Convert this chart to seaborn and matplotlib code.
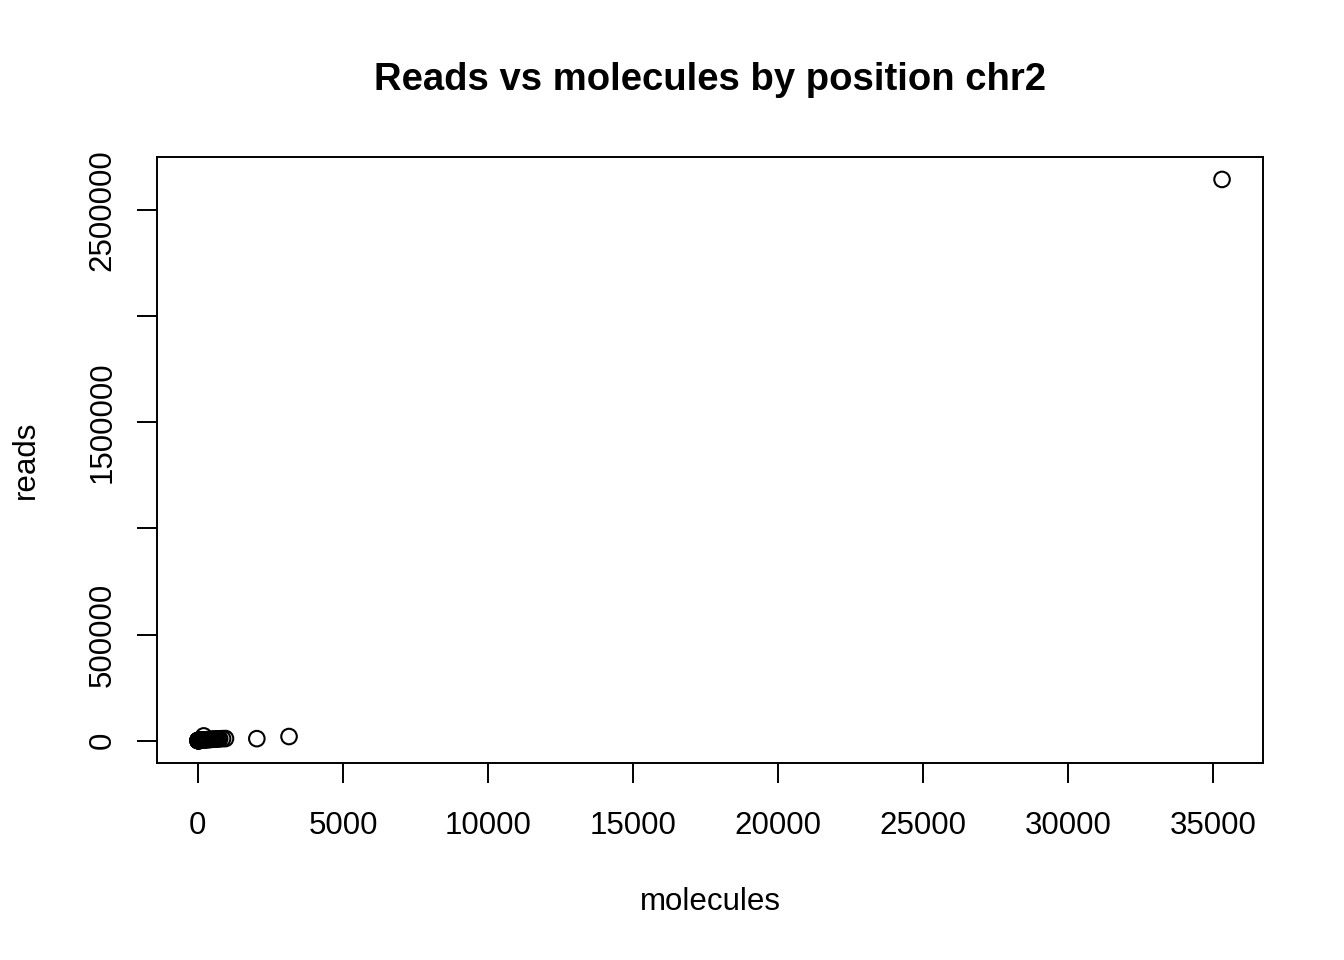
import matplotlib
matplotlib.use("Agg")
import matplotlib.pyplot as plt
import seaborn as sns
import pandas as pd

molecules = [1, 2, 3, 5, 8, 10, 15, 20, 30, 40, 50, 60, 80, 100, 120, 150, 180, 200,
             220, 250, 300, 350, 400, 450, 500, 550, 600, 650, 700, 750, 850, 950,
             2030, 3140, 35300]
reads = [5, 10, 20, 40, 70, 100, 150, 200, 300, 400, 500, 650, 900, 1200, 1500, 1900, 2500, 22000,
         3000, 3500, 4000, 4500, 5000, 5500, 6000, 6500, 7000, 7500, 8000, 8500, 9000, 9500,
         9000, 19000, 2646000]
title = "Reads vs molecules by position chr2"
xticks = [0, 5000, 10000, 15000, 20000, 25000, 30000, 35000]
yticks = [0, 500000, 1000000, 1500000, 2000000, 2500000]
ytick_labels = ["0", "500000", "", "1500000", "", "2500000"]

sns.set_theme(style="ticks")
plt.rcParams['font.family'] = ['Liberation Sans', 'DejaVu Sans']
plt.rcParams['text.color'] = 'black'
plt.rcParams['axes.labelcolor'] = 'black'

df = pd.DataFrame({"molecules": molecules, "reads": reads})

fig = plt.figure(figsize=(13.44, 9.6), dpi=100)
ax = fig.add_axes([157/1344, 1 - 763/960, (1263-157)/1344, (763-157)/960])
sns.scatterplot(data=df, x="molecules", y="reads", ax=ax, marker="o", s=125,
                facecolors="none", edgecolor="black", linewidth=1.5)

xmin, xmax = min(molecules), max(molecules)
ymin, ymax = min(reads), max(reads)
xr, yr = xmax - xmin, ymax - ymin
ax.set_xlim(xmin - 0.04 * xr, xmax + 0.04 * xr)
ax.set_ylim(ymin - 0.04 * yr, ymax + 0.04 * yr)

fs = 22.5
ax.set_xticks(xticks)
ax.set_xticklabels([str(v) for v in xticks], fontsize=fs)
ax.set_yticks(yticks)
ax.set_yticklabels(ytick_labels, fontsize=fs, rotation=90, va="center")
ax.tick_params(axis="both", length=14.4, width=1.4, color="black", labelcolor="black")
ax.tick_params(axis="x", pad=20)
ax.tick_params(axis="y", pad=14)
for sp in ax.spines.values():
    sp.set_visible(True)
    sp.set_color("black")
    sp.set_linewidth(1.4)

ax.set_xlabel("molecules", fontsize=fs, color="black")
ax.set_ylabel("reads", fontsize=fs, color="black")
ax.xaxis.set_label_coords(0.5, (763 - 902) / 606)
ax.yaxis.set_label_coords((26 - 157) / 1106, 0.5)
ax.xaxis.label.set_va("center")
ax.yaxis.label.set_va("center")
fig.text((157 + 1263) / 2 / 1344, 1 - 80 / 960, title, ha="center", va="center",
         fontsize=27.5, fontweight="bold", color="black")

fig.savefig("out.png", dpi=100, facecolor="white")
